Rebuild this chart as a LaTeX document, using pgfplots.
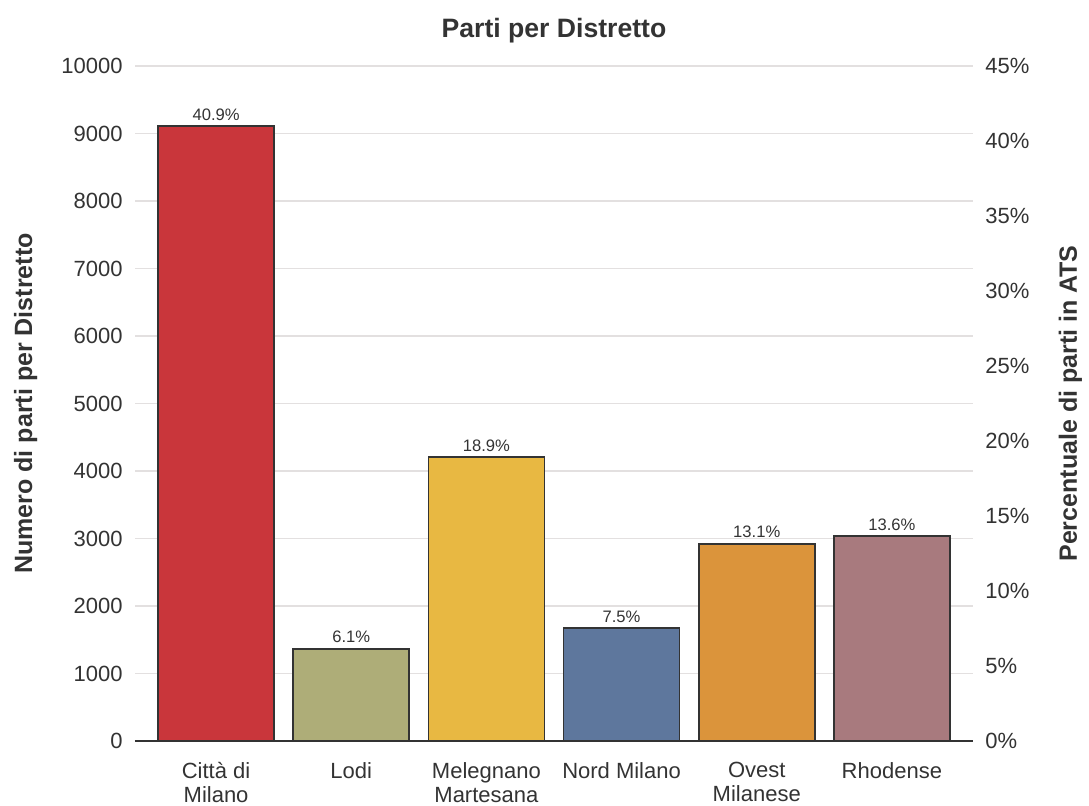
\documentclass[border=0pt]{standalone}
\usepackage{pgfplots}
\pgfplotsset{compat=1.18}
\usepackage{fontspec}
\setmainfont{Liberation Sans}
\definecolor{cRed}{HTML}{C9363B}
\definecolor{cOlive}{HTML}{AEAD78}
\definecolor{cYellow}{HTML}{E8B842}
\definecolor{cBlue}{HTML}{5E779D}
\definecolor{cOrange}{HTML}{DB943B}
\definecolor{cMauve}{HTML}{A87A7E}
\definecolor{txt}{HTML}{333333}
\definecolor{gridc}{HTML}{E3E0E0}
\definecolor{edge}{HTML}{333333}
\begin{document}
\begin{tikzpicture}
\path[use as bounding box] (-67.5pt,-32pt) rectangle (477pt,370.5pt);
\begin{axis}[
  at={(0,0)}, anchor=south west,
  scale only axis, width=419pt, height=337.5pt,
  xmin=-0.6, xmax=5.6, ymin=0, ymax=10000,
  axis y line*=left, axis x line*=bottom,
  y axis line style={draw=none},
  x axis line style={draw=edge, line width=1pt},
  xtick={0,1,2,3,4,5},
  xticklabels={{Città di\\Milano},Lodi,{Melegnano\\Martesana},Nord Milano,{Ovest\\Milanese},Rhodense},
  xticklabel style={align=center, anchor=north, inner sep=0pt, yshift=-10.5pt, font=\fontsize{11}{12}\selectfont, text=txt},
  ytick={0,1000,...,10000},
  scaled y ticks=false,
  yticklabel style={anchor=east, inner sep=0pt, xshift=-6pt, font=\fontsize{11}{12.5}\selectfont, text=txt},
  /pgf/number format/assume math mode=true,
  /pgf/number format/1000 sep={},
  major tick length=0pt,
  ymajorgrids, major grid style={draw=gridc, line width=0.8pt},
  ybar, bar width=58pt, bar shift=0pt,
  point meta=explicit symbolic,
  nodes near coords,
  every node near coord/.append style={anchor=base, inner sep=0pt, yshift=3pt, font=\fontsize{8.3}{9}\selectfont, text=txt},
  every axis y label/.style={at={(axis description cs:-0.1229,0.5)}, rotate=90, anchor=base},
  ylabel={\fontsize{12.5}{14}\selectfont\bfseries Numero di parti per Distretto},
  ylabel style={text=txt},
  every axis title/.style={at={(axis description cs:0.5,1.0415)}, anchor=base},
  title={\fontsize{13.3}{15}\selectfont\bfseries Parti per Distretto},
  title style={text=txt},
  clip=false,
]
\addplot[fill=cRed, draw=edge, line width=0.8pt] coordinates {(0,9110) [40.9\%]};
\addplot[fill=cOlive, draw=edge, line width=0.8pt] coordinates {(1,1363) [6.1\%]};
\addplot[fill=cYellow, draw=edge, line width=0.8pt] coordinates {(2,4207) [18.9\%]};
\addplot[fill=cBlue, draw=edge, line width=0.8pt] coordinates {(3,1674) [7.5\%]};
\addplot[fill=cOrange, draw=edge, line width=0.8pt] coordinates {(4,2919) [13.1\%]};
\addplot[fill=cMauve, draw=edge, line width=0.8pt] coordinates {(5,3035) [13.6\%]};
\end{axis}
\begin{axis}[
  at={(0,0)}, anchor=south west,
  scale only axis, width=419pt, height=337.5pt,
  xmin=-0.6, xmax=5.6, ymin=0, ymax=45,
  axis y line*=right, hide x axis,
  y axis line style={draw=none},
  ytick={0,5,...,45},
  yticklabel={\pgfmathprintnumber{\tick}\%},
  yticklabel style={anchor=west, inner sep=0pt, xshift=6pt, font=\fontsize{11}{12.5}\selectfont, text=txt},
  /pgf/number format/assume math mode=true,
  major tick length=0pt,
  every axis y label/.style={at={(axis description cs:1.1241,0.5)}, rotate=90, anchor=base},
  ylabel={\fontsize{12.5}{14}\selectfont\bfseries Percentuale di parti in ATS},
  ylabel style={text=txt},
]
\addplot[draw=none] coordinates {(0,0)};
\end{axis}
\end{tikzpicture}
\end{document}
